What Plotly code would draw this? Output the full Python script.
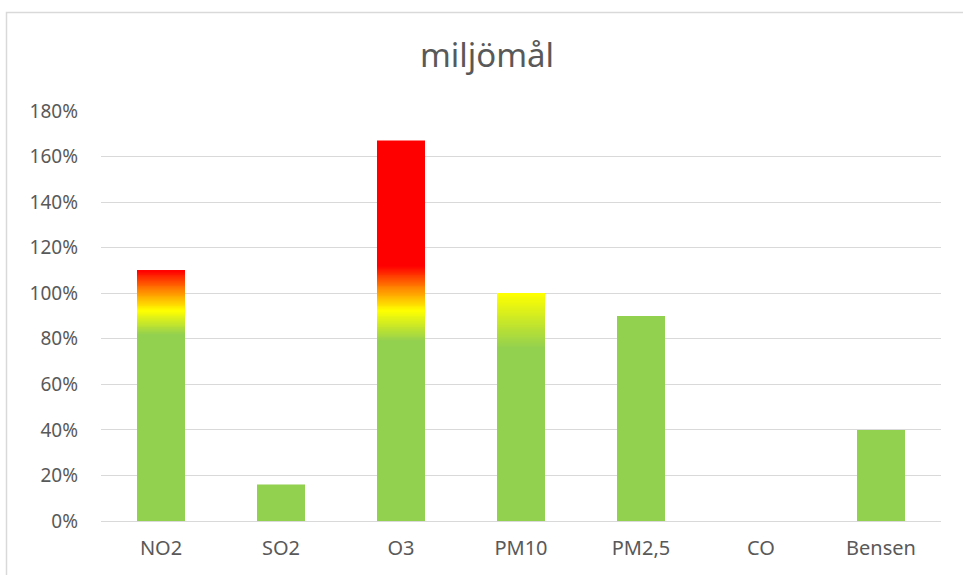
import plotly.graph_objects as go

# ---- data ----
categories = ["NO2", "SO2", "O3", "PM10", "PM2,5", "CO", "Bensen"]
values = [1.10, 0.16, 1.67, 1.00, 0.90, 0.0, 0.40]
y_ticks = [0, 0.2, 0.4, 0.6, 0.8, 1.0, 1.2, 1.4, 1.6, 1.8]
title_text = "miljömål"

# ---- style: gradient stops per bar (value, rgb) ----
G = (146, 208, 80)
Y = (255, 255, 0)
O = (255, 140, 0)
R = (255, 0, 0)
gradients = {
    "NO2": [(0.0, G), (0.82, G), (0.925, Y), (1.01, O), (1.10, R)],
    "O3": [(0.0, G), (0.79, G), (0.925, Y), (1.02, O), (1.12, R), (2.0, R)],
    "PM10": [(0.0, G), (0.76, G), (1.00, Y)],
}
default_grad = [(0.0, G), (2.0, G)]


def color_at(stops, v):
    if v <= stops[0][0]:
        c = stops[0][1]
    elif v >= stops[-1][0]:
        c = stops[-1][1]
    else:
        for (a, ca), (b, cb) in zip(stops[:-1], stops[1:]):
            if a <= v <= b:
                t = 0 if b == a else (v - a) / (b - a)
                c = tuple(ca[i] + (cb[i] - ca[i]) * t for i in range(3))
                break
    return "rgb(%d,%d,%d)" % tuple(round(x) for x in c)


step = 0.004
xs, ys, bases, cols = [], [], [], []
for cat, val in zip(categories, values):
    if val <= 0:
        continue
    stops = gradients.get(cat, default_grad)
    n = int(round(val / step))
    segs = []
    for k in range(n):
        b = k * step
        top = min(val, (k + 1) * step)
        col = color_at(stops, (b + top) / 2)
        if segs and segs[-1][2] == col:
            segs[-1][1] = top
        else:
            segs.append([b, top, col])
    for b, top, col in segs:
        t2 = min(val, top + step * 0.6)
        xs.append(cat)
        bases.append(b)
        ys.append(t2 - b)
        cols.append(col)

fig = go.Figure()
fig.add_trace(go.Bar(
    x=xs, y=ys, base=bases,
    marker=dict(color=cols, line=dict(width=0)),
    width=0.4, hoverinfo="skip", showlegend=False,
))

grey = "#595959"
font_family = "Noto Sans, Open Sans, sans-serif"

fig.update_layout(
    width=963, height=575,
    margin=dict(l=101, r=22, t=111, b=54),
    paper_bgcolor="white", plot_bgcolor="white",
    title=dict(text=title_text, x=487 / 963, xanchor="center", y=1 - 55 / 575,
               yanchor="middle", font=dict(family=font_family, size=33, color=grey)),
    font=dict(family=font_family, color=grey),
    bargap=0.6,
    shapes=[dict(type="rect", xref="paper", yref="paper",
                 x0=(6.5 - 101) / 840, x1=1.2, y0=-0.3, y1=(521 - 12.5) / 410,
                 line=dict(color="#d9d9d9", width=1.5), layer="below")],
)
fig.update_xaxes(categoryorder="array", categoryarray=categories,
                 tickfont=dict(size=20, color=grey), showgrid=False,
                 showline=False, ticks="", ticklabelstandoff=13)
fig.update_yaxes(range=[0, 1.8], tickvals=y_ticks, tickformat=".0%",
                 tickfont=dict(size=19, color=grey), showgrid=True,
                 gridcolor="#d9d9d9", gridwidth=1, zeroline=True,
                 zerolinecolor="#d9d9d9", zerolinewidth=1, showline=False,
                 ticks="", ticklabelstandoff=22)

fig.write_html("out.html", config={"displayModeBar": False},
               post_script="document.body.style.margin='0';document.body.style.padding='0';")
